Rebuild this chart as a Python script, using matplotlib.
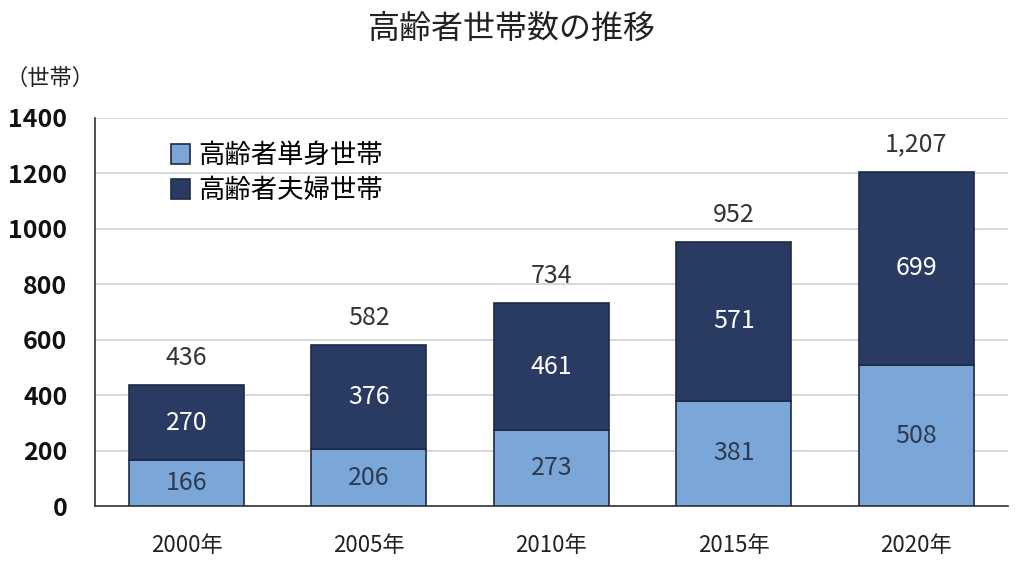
import matplotlib.pyplot as plt
import numpy as np

plt.rcParams['font.family'] = ['Noto Sans CJK JP', 'DejaVu Sans']

years = ['2000年', '2005年', '2010年', '2015年', '2020年']
single = [166, 206, 273, 381, 508]
couple = [270, 376, 461, 571, 699]
totals = [436, 582, 734, 952, 1207]

light = '#7ba7d8'
dark = '#293a63'
edge = '#1e2a45'

fig = plt.figure(figsize=(10.24, 5.7), dpi=100)
ax = fig.add_axes([0.093, 0.112, 0.891, 0.681])

x = np.arange(len(years))
w = 0.63
ax.bar(x, single, w, color=light, edgecolor=edge, linewidth=1.2, label='高齢者単身世帯', zorder=3)
ax.bar(x, couple, w, bottom=single, color=dark, edgecolor=edge, linewidth=1.2, label='高齢者夫婦世帯', zorder=3)

for i in range(len(years)):
    ax.text(x[i], single[i] / 2, str(single[i]), ha='center', va='center', fontsize=18, color='#2e3a50', zorder=4)
    ax.text(x[i], single[i] + couple[i] / 2, str(couple[i]), ha='center', va='center', fontsize=18, color='white', zorder=4)
    ax.text(x[i], totals[i] + 50, f'{totals[i]:,}', ha='center', va='bottom', fontsize=18, color='#333333', zorder=4)

ax.set_xlim(-0.5, 4.5)
ax.set_ylim(0, 1400)
ax.set_yticks(range(0, 1401, 200))
ax.set_xticks(x)
ax.set_xticklabels(years, fontsize=16, color='#222222')
ax.tick_params(axis='y', labelsize=18, length=0, pad=20, labelcolor='#111111')
ax.tick_params(axis='x', length=0, pad=20)
for lab in ax.get_yticklabels():
    lab.set_fontweight('bold')

ax.grid(axis='y', color='#d0d0d0', linewidth=1.2, zorder=0)
ax.spines['top'].set_visible(False)
ax.spines['right'].set_visible(False)
ax.spines['left'].set_color('#333333')
ax.spines['bottom'].set_color('#333333')
ax.spines['left'].set_linewidth(1.2)
ax.spines['bottom'].set_linewidth(1.2)

leg = ax.legend(loc='upper left', bbox_to_anchor=(0.071, 0.965), frameon=False, fontsize=19,
                handlelength=0.75, handleheight=0.75, handletextpad=0.3, labelspacing=0.3,
                borderaxespad=0)

fig.text(0.5, 0.95, '高齢者世帯数の推移', ha='center', va='center', fontsize=23, color='#222222')
fig.text(0.005, 0.862, '（世帯）', ha='left', va='center', fontsize=16, color='#222222')

fig.savefig('out.png', dpi=100)
